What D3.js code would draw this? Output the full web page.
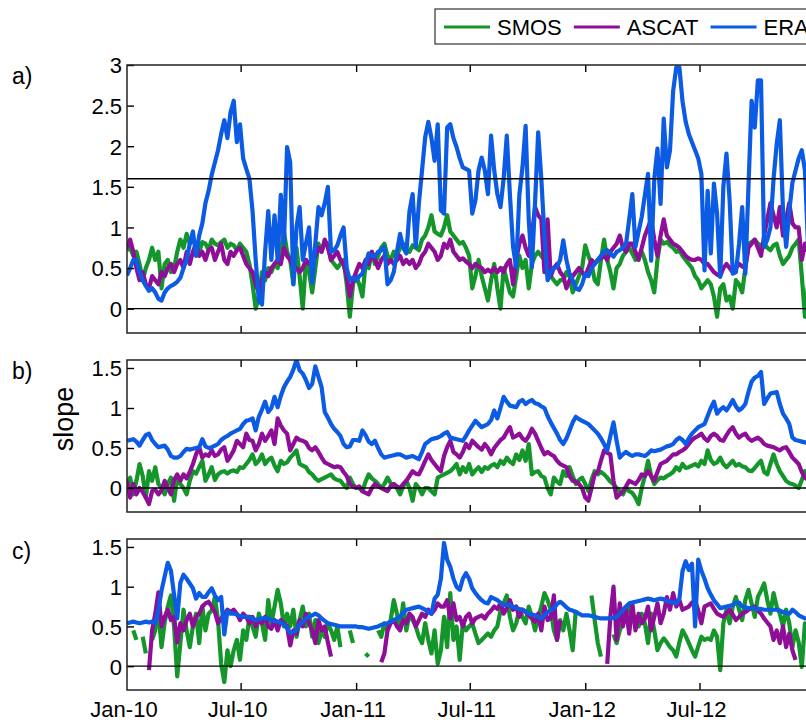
<!DOCTYPE html>
<html>
<head>
<meta charset="utf-8">
<script src="https://cdnjs.cloudflare.com/ajax/libs/d3/7.8.5/d3.min.js"></script>
<style>
  body { margin:0; background:#fff; }
  svg text { font-family:"Liberation Sans", Arial, Helvetica, sans-serif; fill:#000; }
</style>
</head>
<body>
<div id="chart_container"></div>
<script>
// Series are sampled every 5 days from 1 Jan 2010; null = no data.
var date_start = new Date(2010, 0, 1);
var date_end   = new Date(2013, 0, 1);
var day_step   = 5;

var series_name_array  = ["SMOS", "ASCAT", "ERA"];
var series_color_array = ["#14962a", "#8e0e98", "#0c5be4"];
var panel_label_array  = ["a)", "b)", "c)"];
var tick_date_array    = [new Date(2010,0,1), new Date(2010,6,1), new Date(2011,0,1), new Date(2011,6,1), new Date(2012,0,1), new Date(2012,6,1)];
var tick_label_array   = ["Jan-10", "Jul-10", "Jan-11", "Jul-11", "Jan-12", "Jul-12"];
var y_tick_a_array     = [0, 0.5, 1, 1.5, 2, 2.5, 3];
var y_tick_bc_array    = [0, 0.5, 1, 1.5];

var smos_a = [
  0.72,0.75,0.65,0.7,0.55,0.35,0.5,0.6,0.75,0.6,
  0.7,0.25,0.55,0.6,0.45,0.5,0.7,0.85,0.75,0.92,
  0.8,0.85,0.78,0.7,0.82,0.8,0.72,0.85,0.8,0.78,
  0.82,0.85,0.75,0.8,0.78,0.72,0.8,0.75,0.7,0.55,
  0.3,0.0,0.15,0.45,0.35,0.5,0.45,0.55,0.5,0.7,
  0.95,0.7,0.6,0.3,0.75,0.4,0.0,0.6,0.45,0.2,
  0.5,0.8,0.7,0.82,0.8,0.6,0.55,0.5,0.55,0.6,
  0.3,-0.1,0.3,0.4,0.3,0.15,0.55,0.5,0.7,0.55,
  0.65,0.75,0.8,0.65,0.6,0.7,0.65,0.75,0.8,0.72,
  0.7,0.78,0.75,0.72,0.85,0.9,1.0,1.15,0.95,0.92,
  0.9,1.0,1.15,0.95,0.9,0.85,0.8,0.82,0.75,0.65,
  0.25,0.4,0.6,0.4,0.25,0.1,0.35,0.55,0.25,0.0,
  0.5,0.35,0.2,0.15,0.4,0.65,0.5,0.6,0.25,0.55,
  0.65,0.7,0.65,0.6,0.5,0.4,0.35,0.3,0.35,0.35,
  0.45,0.4,0.2,0.3,0.4,0.5,0.78,0.65,0.55,0.35,
  0.3,0.6,0.85,0.6,0.45,0.25,0.5,0.55,0.65,0.7,
  0.75,0.68,0.6,0.65,0.7,0.6,0.45,0.35,0.2,0.6,
  0.85,0.8,0.82,0.78,0.75,0.7,0.72,0.65,0.6,0.55,
  0.5,0.4,0.35,0.25,0.3,0.35,0.3,0.15,-0.1,0.25,
  0.3,0.1,0.15,0.0,0.35,0.3,0.2,0.5,0.8,0.82,
  0.85,0.8,0.78,0.8,0.75,0.72,0.78,0.8,0.65,0.55,
  0.6,0.65,0.75,0.8,0.85,0.4,-0.1,0.3,0.5
];
var ascat_a = [
  0.75,0.85,0.7,0.5,0.35,0.45,0.3,0.25,0.4,0.35,
  0.3,0.45,0.4,0.5,0.55,0.45,0.55,0.6,0.5,0.7,
  0.55,0.7,0.8,0.65,0.7,0.6,0.72,0.75,0.6,0.7,
  0.8,0.6,0.55,0.7,0.65,0.72,0.75,0.65,0.55,0.5,
  0.45,0.3,0.2,0.35,0.45,0.4,0.5,0.55,0.6,0.55,
  0.75,0.65,0.6,0.5,0.5,0.45,0.5,0.6,0.55,0.55,
  0.65,0.75,0.7,0.85,0.75,0.6,0.65,0.7,0.6,0.55,
  0.4,0.15,0.35,0.45,0.55,0.5,0.6,0.55,0.7,0.6,
  0.5,0.6,0.65,0.55,0.6,0.55,0.6,0.65,0.55,0.6,
  0.55,0.6,0.5,0.55,0.65,0.7,0.8,0.75,0.7,0.6,
  0.65,0.8,0.75,0.85,0.7,0.65,0.6,0.62,0.58,0.55,
  0.5,0.55,0.52,0.5,0.45,0.48,0.45,0.5,0.45,0.5,
  0.45,0.55,0.6,0.3,0.6,0.8,0.9,0.75,0.65,0.9,
  1.25,1.15,1.1,0.45,1.1,0.4,0.5,0.55,0.45,0.4,
  0.25,0.35,0.4,0.45,0.5,0.45,0.4,0.5,0.6,0.55,
  0.6,0.62,0.65,0.6,0.7,0.75,0.8,0.9,0.75,0.7,
  0.8,0.8,0.7,0.6,0.75,0.9,1.0,1.1,0.85,0.65,
  0.9,1.1,0.9,0.85,0.8,0.78,0.75,0.7,0.65,0.62,
  0.6,0.6,0.62,0.6,0.55,0.55,0.5,0.45,0.42,0.4,
  0.5,0.55,0.5,0.45,0.5,0.55,0.52,0.5,0.75,0.8,
  0.85,0.75,0.65,0.9,1.1,1.3,1.15,1.0,1.25,0.9,
  1.1,1.3,1.05,1.0,1.0,0.6,0.8,0.7,0.7
];
var era_a = [
  0.41,0.5,0.6,0.6,0.45,0.35,0.28,0.22,0.25,0.2,
  0.12,0.1,0.2,0.25,0.28,0.3,0.33,0.38,0.5,0.6,
  0.8,0.95,0.65,0.9,1.05,1.3,1.45,1.65,1.8,1.95,
  2.15,2.32,2.1,2.42,2.56,2.05,2.27,1.85,1.72,1.6,
  1.2,0.6,0.1,0.05,0.7,1.2,0.6,1.15,0.6,1.4,
  0.8,1.99,1.8,0.3,1.0,1.25,0.6,0.8,1.0,0.32,
  0.8,1.25,1.15,1.3,1.5,0.7,0.72,0.78,0.9,1.0,
  0.5,0.35,0.38,0.35,0.4,0.43,0.55,0.68,0.65,0.64,
  0.7,0.72,0.76,0.3,0.35,0.45,0.7,0.92,0.75,0.68,
  1.2,1.41,0.76,1.3,1.7,2.11,2.3,2.1,1.82,2.27,
  1.21,1.17,2.23,2.27,2.1,1.99,1.85,1.74,1.72,1.7,
  1.17,1.33,1.7,1.86,1.7,1.41,2.13,1.7,1.41,1.25,
  1.6,2.13,1.4,0.76,0.51,1.4,1.74,2.25,1.09,0.51,
  1.3,2.17,1.6,0.9,0.35,0.45,0.5,0.51,0.6,0.84,
  0.6,0.43,0.35,0.25,0.23,0.3,0.43,0.4,0.5,0.55,
  0.6,0.65,0.7,0.72,0.68,0.64,0.7,0.72,0.75,0.8,
  1.1,1.41,0.76,0.95,1.13,1.4,1.66,0.59,1.6,1.97,
  1.29,2.34,1.74,1.95,2.68,2.97,2.97,2.55,2.3,2.15,
  2.05,1.95,1.85,1.66,0.47,1.45,0.68,1.54,1.17,0.39,
  1.5,1.91,1.33,0.43,0.45,0.8,1.25,0.43,1.5,2.56,
  2.23,2.81,2.81,0.76,0.85,1.0,1.6,2.03,2.32,1.21,
  0.76,1.2,1.55,1.7,1.85,1.95,1.7,0.76,0.7
];

var smos_b = [
  0.05,0.13,-0.08,0.09,0.3,0.15,-0.12,0.21,0.09,0.26,
  0.05,0.0,-0.08,0.05,0.13,-0.16,0.13,0.05,0.0,-0.08,
  0.09,0.21,0.18,0.26,0.34,0.09,0.17,0.26,0.1,0.17,
  0.2,0.21,0.18,0.21,0.22,0.2,0.26,0.25,0.3,0.35,
  0.42,0.3,0.34,0.42,0.3,0.35,0.38,0.28,0.21,0.34,
  0.3,0.32,0.38,0.42,0.47,0.3,0.28,0.26,0.2,0.17,
  0.12,0.09,0.11,0.13,0.15,0.17,0.12,0.1,0.09,0.04,
  0.0,0.13,0.05,0.0,0.0,-0.04,0.08,0.17,0.12,0.09,
  0.05,0.0,0.05,0.13,0.06,0.02,0.0,-0.08,0.02,0.09,
  0.0,-0.16,0.05,0.0,-0.08,0.0,0.0,-0.04,-0.08,0.13,
  0.15,0.17,0.19,0.21,0.25,0.3,0.17,0.26,0.2,0.3,
  0.17,0.22,0.26,0.2,0.26,0.24,0.28,0.3,0.26,0.34,
  0.3,0.38,0.33,0.3,0.42,0.35,0.47,0.34,0.55,0.17,
  0.2,0.21,0.15,0.13,0.0,-0.08,0.13,0.08,0.05,0.21,
  0.15,0.26,0.15,0.05,0.1,0.13,0.05,-0.04,0.1,0.21,
  0.17,0.2,0.17,0.13,0.08,0.05,0.0,-0.04,-0.08,0.0,
  -0.04,-0.06,-0.12,-0.2,0.0,0.15,0.34,0.15,0.05,0.1,
  0.13,0.12,0.15,0.17,0.2,0.26,0.22,0.3,0.25,0.26,
  0.28,0.3,0.27,0.34,0.3,0.47,0.35,0.3,0.32,0.38,
  0.3,0.26,0.3,0.34,0.28,0.3,0.27,0.26,0.22,0.21,
  0.25,0.3,0.34,0.2,0.17,0.3,0.42,0.3,0.21,0.15,
  0.09,0.06,0.05,0.03,0.0,0.1,0.21,0.1,0.15
];
var ascat_b = [
  0.09,-0.12,0.05,-0.08,0.0,-0.05,-0.12,-0.2,-0.04,-0.02,
  -0.08,-0.03,0.09,0.0,-0.08,0.1,0.17,0.09,0.17,0.12,
  0.2,0.3,0.42,0.51,0.38,0.42,0.4,0.47,0.4,0.42,
  0.48,0.51,0.34,0.4,0.47,0.59,0.55,0.51,0.68,0.6,
  0.59,0.47,0.55,0.68,0.59,0.65,0.72,0.55,0.87,0.78,
  0.72,0.68,0.47,0.55,0.63,0.6,0.59,0.57,0.5,0.47,
  0.51,0.45,0.38,0.32,0.3,0.28,0.26,0.27,0.26,0.2,
  0.15,0.05,0.02,0.0,0.02,-0.04,-0.06,-0.08,0.0,0.05,
  0.02,0.0,-0.02,-0.04,0.02,0.05,0.02,0.0,0.05,0.09,
  0.15,0.21,0.18,0.17,0.25,0.34,0.42,0.35,0.3,0.25,
  0.21,0.4,0.51,0.59,0.45,0.42,0.38,0.45,0.55,0.5,
  0.59,0.55,0.51,0.48,0.55,0.5,0.42,0.5,0.55,0.6,
  0.63,0.7,0.76,0.63,0.65,0.68,0.62,0.59,0.65,0.74,
  0.68,0.59,0.5,0.42,0.45,0.42,0.4,0.34,0.3,0.28,
  0.26,0.15,0.09,0.08,0.05,0.0,-0.12,-0.16,0.0,0.17,
  0.2,0.34,0.47,0.44,0.42,0.09,-0.12,-0.08,-0.04,0.02,
  0.09,0.07,0.05,0.1,0.17,0.15,0.21,0.15,0.09,0.2,
  0.3,0.32,0.34,0.38,0.42,0.42,0.45,0.47,0.5,0.55,
  0.6,0.63,0.65,0.68,0.62,0.59,0.65,0.68,0.65,0.6,
  0.59,0.66,0.72,0.76,0.68,0.63,0.66,0.68,0.62,0.59,
  0.61,0.63,0.6,0.55,0.53,0.52,0.51,0.49,0.47,0.5,
  0.51,0.45,0.38,0.34,0.3,0.2,0.13,0.1,0.1
];
var era_b = [
  0.59,0.6,0.61,0.58,0.53,0.6,0.66,0.68,0.6,0.55,
  0.51,0.52,0.53,0.48,0.4,0.38,0.38,0.4,0.45,0.49,
  0.48,0.49,0.5,0.51,0.61,0.52,0.5,0.51,0.53,0.55,
  0.6,0.63,0.65,0.68,0.7,0.72,0.74,0.8,0.84,0.85,
  0.87,0.72,0.89,0.98,1.08,0.95,1.0,1.14,1.01,1.15,
  1.26,1.33,1.39,1.48,1.6,1.47,1.43,1.35,1.25,1.3,
  1.52,1.39,1.26,0.95,0.88,0.8,0.74,0.7,0.65,0.55,
  0.51,0.52,0.6,0.6,0.59,0.72,0.66,0.58,0.55,0.59,
  0.5,0.42,0.38,0.39,0.4,0.41,0.42,0.42,0.4,0.38,
  0.39,0.4,0.38,0.36,0.45,0.55,0.58,0.61,0.62,0.63,
  0.65,0.68,0.7,0.63,0.62,0.61,0.6,0.59,0.65,0.72,
  0.78,0.84,0.8,0.76,0.78,0.8,0.85,0.97,0.87,1.0,
  1.14,1.08,1.03,1.02,1.01,1.08,1.1,1.05,1.08,1.1,
  1.06,1.05,1.02,1.0,0.9,0.82,0.75,0.68,0.6,0.55,
  0.62,0.72,0.82,0.89,0.86,0.84,0.82,0.8,0.76,0.72,
  0.68,0.62,0.55,0.47,0.65,0.82,0.59,0.38,0.42,0.45,
  0.42,0.4,0.42,0.42,0.41,0.4,0.43,0.47,0.46,0.47,
  0.48,0.5,0.52,0.53,0.55,0.6,0.63,0.6,0.55,0.62,
  0.68,0.72,0.76,0.78,0.8,0.9,1.0,1.08,0.93,0.98,
  1.01,0.97,1.03,1.1,1.02,0.97,1.0,1.05,1.2,1.33,
  1.38,1.4,1.45,1.05,1.12,1.18,1.19,1.2,1.05,0.93,
  0.87,0.8,0.63,0.6,0.59,0.58,0.57,0.56,0.55
];

var smos_c = [
  null,null,0.45,0.33,null,0.37,0.16,null,0.33,0.45,
  0.71,0.24,0.55,0.75,0.89,0.5,-0.13,0.29,0.71,0.45,
  0.24,0.5,0.66,0.29,0.75,0.45,0.66,0.7,0.87,0.58,
  0.03,-0.2,0.2,0.0,0.2,0.33,0.08,0.45,0.33,0.62,
  0.5,0.37,0.66,0.54,0.33,0.83,0.54,0.75,0.96,0.79,
  0.5,0.66,0.5,0.71,0.37,0.58,0.75,0.5,0.66,0.37,
  0.58,0.29,0.45,0.37,0.54,0.45,0.33,0.5,0.24,null,
  null,0.45,0.29,null,null,null,0.16,0.12,null,null,
  0.45,0.37,0.54,0.45,0.58,0.83,0.66,0.5,0.79,0.45,
  0.66,0.58,0.5,0.37,0.29,0.54,0.33,0.16,0.45,0.03,
  0.2,0.62,0.24,0.92,0.33,0.5,0.08,0.54,0.45,0.5,
  0.54,0.41,0.29,0.33,0.37,0.41,0.37,0.45,0.5,0.7,
  0.79,0.89,0.62,0.45,0.54,0.71,0.62,0.54,0.75,0.62,
  0.45,0.6,0.75,0.92,0.83,0.71,0.45,0.33,0.58,0.45,
  0.66,0.45,0.2,0.71,null,null,null,null,0.89,0.58,
  0.29,0.12,null,null,null,0.4,0.29,0.45,0.54,0.65,
  0.75,0.6,0.62,0.5,0.66,0.54,0.29,0.66,0.45,0.2,
  0.29,0.35,0.3,0.24,0.2,0.12,0.3,0.45,0.38,0.29,
  0.2,0.12,0.25,0.37,0.33,0.35,0.33,0.45,0.37,-0.05,
  0.54,0.71,0.54,0.75,0.87,0.71,0.58,0.83,0.96,0.79,
  0.62,0.87,0.95,1.04,0.83,0.66,0.92,0.75,0.66,0.5,
  0.71,0.54,0.24,0.45,0.3,-0.01,0.54,0.45,0.45
];
var ascat_c = [
  null,null,null,null,null,null,null,-0.05,0.45,0.66,
  0.93,0.5,0.62,0.71,0.58,0.62,0.3,0.54,0.45,0.58,
  0.66,0.5,0.62,0.66,0.75,0.79,0.81,0.75,0.68,0.54,
  0.6,0.66,0.71,0.68,0.71,0.66,0.58,0.66,0.62,0.54,
  0.62,0.5,0.58,0.54,0.62,0.5,0.47,0.58,0.45,0.58,
  0.54,0.5,0.26,0.45,0.41,0.58,0.5,0.66,0.54,0.45,
  0.29,0.58,0.45,0.5,0.3,0.12,null,null,null,null,
  null,null,null,null,null,null,null,null,null,null,
  null,0.05,0.16,0.45,0.54,0.58,0.5,0.45,0.58,0.54,
  0.66,0.62,0.5,0.58,0.66,0.62,0.71,0.66,0.71,0.79,
  0.75,0.75,0.83,0.6,0.79,0.58,0.62,0.5,0.62,0.66,
  0.54,0.6,0.62,0.64,0.6,0.66,0.7,0.75,0.72,0.79,
  0.66,0.73,0.83,0.71,0.75,0.62,0.71,0.68,0.64,0.6,
  0.56,0.66,0.45,0.75,0.58,0.6,0.89,0.33,0.58,null,
  null,null,null,null,null,null,null,null,null,null,
  null,null,null,0.03,0.62,1.0,0.33,0.79,0.5,0.71,
  0.41,0.79,0.45,0.66,0.54,0.6,0.75,0.45,0.62,0.79,
  0.54,0.66,0.87,0.71,0.92,0.75,0.83,0.71,0.73,0.75,
  0.8,0.83,0.7,0.54,0.75,0.77,0.79,0.72,0.66,0.64,
  0.62,0.67,0.71,0.65,0.58,0.62,0.66,0.68,0.71,0.73,
  0.75,0.7,0.66,0.6,0.55,0.5,0.33,0.45,0.29,0.5,
  0.24,0.41,0.2,0.08,null,null,null,null,null
];
var era_c = [
  0.54,0.55,0.56,0.55,0.54,0.55,0.56,0.55,0.56,0.54,
  0.7,0.95,1.13,1.3,1.2,0.9,0.6,1.05,1.15,1.1,
  1.04,0.98,0.85,0.92,0.87,0.87,0.93,0.98,0.89,0.83,
  0.87,0.4,0.7,0.66,0.66,0.65,0.63,0.62,0.62,0.62,
  0.6,0.58,0.59,0.6,0.6,0.6,0.58,0.57,0.56,0.55,
  0.52,0.48,0.42,0.43,0.45,0.52,0.56,0.6,0.62,0.64,
  0.66,0.64,0.6,0.57,0.54,0.53,0.52,0.51,0.5,0.5,
  0.5,0.5,0.5,0.5,0.49,0.49,0.48,0.47,0.48,0.49,
  0.5,0.52,0.53,0.54,0.56,0.58,0.6,0.62,0.67,0.71,
  0.72,0.73,0.74,0.75,0.73,0.71,0.68,0.66,0.85,0.9,
  1.1,1.55,1.34,1.25,1.1,1.0,0.96,1.1,1.17,1.1,
  0.98,0.92,0.87,0.83,0.8,0.79,0.87,0.85,0.83,0.8,
  0.77,0.77,0.77,0.75,0.73,0.72,0.71,0.69,0.66,0.65,
  0.64,0.62,0.6,0.64,0.68,0.7,0.73,0.78,0.81,0.78,
  0.74,0.71,0.7,0.68,0.66,0.64,0.64,0.64,0.63,0.62,
  0.61,0.6,0.6,0.6,0.6,0.61,0.62,0.66,0.71,0.75,
  0.79,0.8,0.81,0.82,0.83,0.84,0.85,0.84,0.83,0.84,
  0.85,0.84,0.82,0.81,0.8,0.79,0.85,1.2,1.32,1.21,
  1.29,0.5,1.34,1.2,1.1,0.98,0.9,0.83,0.78,0.73,
  0.74,0.75,0.76,0.77,0.8,0.8,0.75,0.74,0.73,0.73,
  0.73,0.72,0.72,0.71,0.71,0.71,0.71,0.71,0.7,0.68,
  0.67,0.66,0.71,0.68,0.64,0.62,0.6,0.6,0.59
];

var dimension  = { height:722, width:806 };
var plot_left  = 127;
var plot_right = 815;
var font_tick  = 22;

var panel_array = [
  { top:65,  bottom:333, domain:[-0.3, 3.0], ticks:y_tick_a_array,  ref:[0, 1.6], series:[smos_a, ascat_a, era_a], label_y:84 },
  { top:360, bottom:512, domain:[-0.3, 1.6], ticks:y_tick_bc_array, ref:[0],      series:[smos_b, ascat_b, era_b], label_y:379 },
  { top:539, bottom:690, domain:[-0.3, 1.6], ticks:y_tick_bc_array, ref:[0],      series:[smos_c, ascat_c, era_c], label_y:559 }
];

var scale_x = d3.scaleTime().domain([date_start, date_end]).range([plot_left, plot_right]);

var svg = d3.select("#chart_container").append("svg")
  .attr("height", dimension.height)
  .attr("width" , dimension.width);

function date_of (_i) {
  return d3.timeDay.offset(date_start, _i*day_step);
}

function draw_panel (_panel, _index) {
  var scale_y = d3.scaleLinear().domain(_panel.domain).range([_panel.bottom, _panel.top]);
  var clip_id = "clip_" + _index;

  svg.append("clipPath").attr("id", clip_id).append("rect")
    .attr("x"     , plot_left)
    .attr("y"     , _panel.top)
    .attr("width" , plot_right - plot_left)
    .attr("height", _panel.bottom - _panel.top);

  var line = d3.line()
    .defined(function (d) { return d !== null; })
    .x(function (d, i) { return scale_x(date_of(i)); })
    .y(function (d) { return scale_y(d); });

  var group = svg.append("g").attr("clip-path", "url(#" + clip_id + ")");
  for (var s = 0; s < _panel.series.length; s ++) {
    group.append("path")
      .datum(_panel.series[s])
      .attr("d", line)
      .style("fill"           , "none")
      .style("stroke"         , series_color_array[s])
      .style("stroke-width"   , 4.2)
      .style("stroke-linejoin", "round");
  }

  // Reference lines sit on top of the series.
  svg.selectAll(null).data(_panel.ref).enter().append("line")
    .attr("x1", plot_left)
    .attr("x2", plot_right)
    .attr("y1", function (d) { return scale_y(d); })
    .attr("y2", function (d) { return scale_y(d); })
    .style("stroke", "#000")
    .style("stroke-width", 1.4);

  // Inward ticks, MATLAB style.
  var axis_left = d3.axisLeft(scale_y).tickValues(_panel.ticks).tickSizeInner(-7).tickSizeOuter(0)
    .tickFormat(function (d) { return d3.format("")(d); });
  var g_left = svg.append("g").attr("transform", "translate(" + plot_left + ",0)").call(axis_left);
  g_left.select(".domain").remove();
  g_left.selectAll("line").style("stroke", "#000").style("stroke-width", 1.4);
  g_left.selectAll("text").style("font-size", font_tick + "px").attr("dy", "0.36em").attr("x", -5);

  var axis_top = d3.axisTop(scale_x).tickValues(tick_date_array.slice(1)).tickSizeInner(-7).tickSizeOuter(0).tickFormat("");
  var g_top = svg.append("g").attr("transform", "translate(0," + _panel.top + ")").call(axis_top);
  g_top.select(".domain").remove();
  g_top.selectAll("line").style("stroke", "#000").style("stroke-width", 1.4);

  var axis_bottom = d3.axisBottom(scale_x).tickValues(tick_date_array.slice(1)).tickSizeInner(-7).tickSizeOuter(0).tickFormat("");
  var g_bottom = svg.append("g").attr("transform", "translate(0," + _panel.bottom + ")").call(axis_bottom);
  g_bottom.select(".domain").remove();
  g_bottom.selectAll("line").style("stroke", "#000").style("stroke-width", 1.4);

  svg.append("rect")
    .attr("x"     , plot_left)
    .attr("y"     , _panel.top)
    .attr("width" , plot_right - plot_left)
    .attr("height", _panel.bottom - _panel.top)
    .style("fill", "none")
    .style("stroke", "#222")
    .style("stroke-width", 1.5);

  svg.append("text")
    .attr("x", 12)
    .attr("y", _panel.label_y)
    .style("font-size", "23px")
    .text(panel_label_array[_index]);

  if (_index == panel_array.length - 1) {
    svg.selectAll(null).data(tick_date_array).enter().append("text")
      .attr("x", function (d) { return scale_x(d) - 3; })
      .attr("y", 717)
      .attr("text-anchor", "middle")
      .style("font-size", font_tick + "px")
      .text(function (d, i) { return tick_label_array[i]; });
  }
}

for (var p = 0; p < panel_array.length; p ++) {
  draw_panel(panel_array[p], p);
}

svg.append("text")
  .attr("transform", "translate(73,419) rotate(-90)")
  .attr("text-anchor", "middle")
  .style("font-size", "27px")
  .text("slope");

// Legend, its right end runs past the page edge as in the original figure.
svg.append("rect")
  .attr("x", 435)
  .attr("y", 9)
  .attr("width", 420)
  .attr("height", 35)
  .style("fill", "#fff")
  .style("stroke", "#333")
  .style("stroke-width", 1.2);

var legend_x = 444;
for (var k = 0; k < series_name_array.length; k ++) {
  svg.append("line")
    .attr("x1", legend_x)
    .attr("x2", legend_x + 46)
    .attr("y1", 27)
    .attr("y2", 27)
    .style("stroke", series_color_array[k])
    .style("stroke-width", 3);
  var legend_text = svg.append("text")
    .attr("x", legend_x + 53)
    .attr("y", 35)
    .style("font-size", "22px")
    .text(series_name_array[k]);
  legend_x = legend_x + 53 + legend_text.node().getComputedTextLength() + 12;
}
</script>
</body>
</html>
